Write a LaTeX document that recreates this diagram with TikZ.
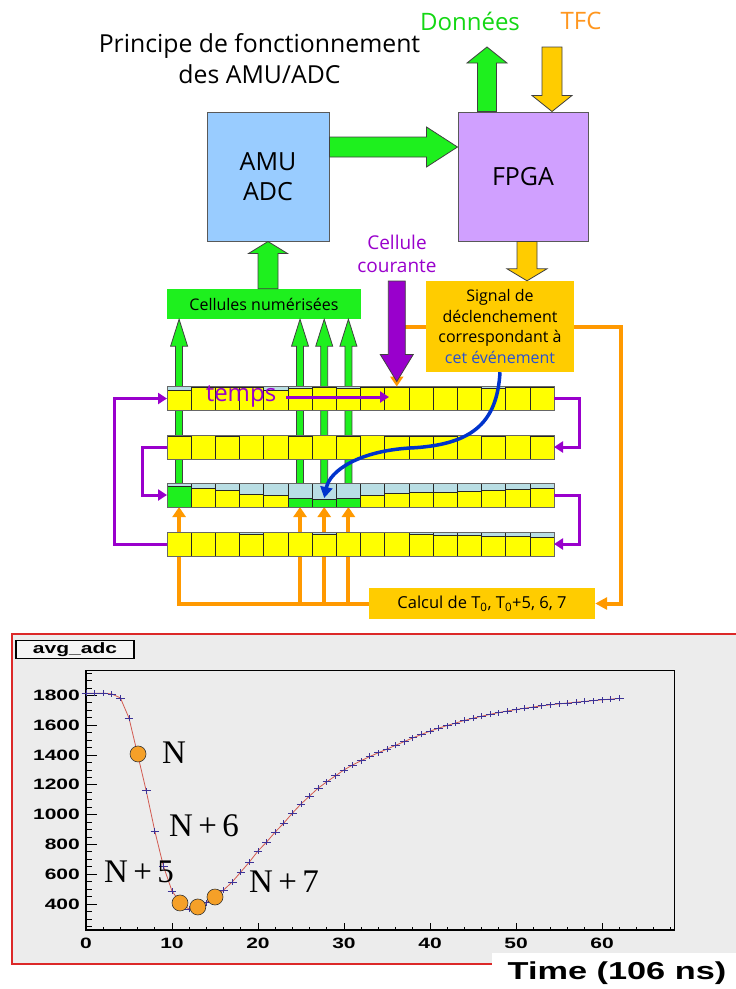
\documentclass[tikz,border=0pt]{standalone}
\usepackage{fontspec}
\setmainfont{Open Sans}
\newfontfamily\plotfont[FakeStretch=1.4]{Liberation Sans}
\newfontfamily\seriffont{Liberation Serif}
\usetikzlibrary{calc,arrows.meta}

\definecolor{vert}{RGB}{30,240,30}
\definecolor{vertdonnees}{RGB}{20,215,20}
\definecolor{gold}{RGB}{255,204,0}
\definecolor{orangeline}{RGB}{255,153,0}
\definecolor{orangetexte}{RGB}{255,150,30}
\definecolor{pourpre}{RGB}{153,0,204}
\definecolor{jaune}{RGB}{255,255,0}
\definecolor{bleuclair}{RGB}{185,222,228}
\definecolor{bleuamu}{RGB}{153,204,255}
\definecolor{mauve}{RGB}{208,160,255}
\definecolor{bleu}{RGB}{0,51,204}
\definecolor{bleutexte}{RGB}{40,80,210}
\definecolor{fond}{RGB}{236,236,236}
\definecolor{rouge}{RGB}{220,40,40}
\definecolor{croix}{RGB}{60,50,150}
\definecolor{courbe}{RGB}{210,90,80}
\definecolor{point}{RGB}{245,160,40}

\tikzset{
  fat/.style n args={3}{draw=black!75, line width=0.8pt, to path={
    let \p1=(\tikztostart), \p2=(\tikztotarget),
        \n1={atan2(\y2-\y1,\x2-\x1)}, \n2={veclen(\x2-\x1,\y2-\y1)} in
    ($(\p1)+({\n1+90}:#1)$) -- ($(\p1)+(\n1:{\n2*1pt-#3})+({\n1+90}:#1)$)
    -- ($(\p1)+(\n1:{\n2*1pt-#3})+({\n1+90}:#2)$) -- (\p2)
    -- ($(\p1)+(\n1:{\n2*1pt-#3})+({\n1-90}:#2)$)
    -- ($(\p1)+(\n1:{\n2*1pt-#3})+({\n1-90}:#1)$)
    -- ($(\p1)+({\n1-90}:#1)$) -- cycle}},
  bloc/.style={draw=gray!70!black, line width=1pt, minimum width=122pt,
    minimum height=129pt, align=center, font=\fontsize{25}{30}\selectfont},
  rangee/.style={minimum width=387pt, minimum height=24pt, inner sep=0pt, outer sep=0pt},
  fil/.style={draw=orangeline, line width=4pt},
  boucle/.style={draw=pourpre, line width=3pt, -{Triangle[width=11pt,length=9pt]}},
  cellline/.style={draw=black!85, line width=0.6pt},
  rowline/.style={draw=gray!80!black, line width=1pt},
  axelab/.style={font=\plotfont\bfseries\fontsize{15}{15}\selectfont, inner sep=0pt},
  croixline/.style={draw=croix, line width=0.8pt},
}

\newcommand\cellrow[2]{%
  \foreach \l/\c [count=\i from 0] in {#2} {
    \coordinate (c) at ([xshift=\i*24.1875pt]#1.north west);
    \fill[bleuclair] (c) rectangle ++(24.1875,24);
    \fill[\c] ($(c)+(0,{\l*24})$) rectangle ++(24.1875,{24-\l*24});
    \draw[cellline] ($(c)+(0,{\l*24})$) -- ++(24.1875,0);
    \draw[cellline] (c) rectangle ++(24.1875,24);
  }
  \draw[rowline] (#1.north west) rectangle (#1.south east);
}

\def\adcdata{0/1815,1/1815,2/1815,3/1810,4/1783,5/1648,6/1405,7/1160,8/890,9/655,10/487,11/407,12/365,13/380,14/410,15/447,16/494,17/548,18/615,19/682,20/756,21/816,22/883,23/943,24/1010,25/1071,26/1125,27/1178,28/1220,29/1260,30/1300,31/1333,32/1362,33/1390,34/1415,35/1440,36/1465,37/1490,38/1515,39/1538,40/1560,41/1580,42/1598,43/1615,44/1632,45/1647,46/1660,47/1673,48/1685,49/1695,50/1705,51/1714,52/1722,53/1730,54/1737,55/1743,56/1749,57/1755,58/1760,59/1765,60/1770,61/1775,62/1780}

\begin{document}
\begin{tikzpicture}[x=1pt, y=-1pt]
\useasboundingbox (0,0) rectangle (736,989);

% ---- histogram panel
\fill[fond] (12,634) rectangle (736,953);
\fill[fond] (12,953) rectangle (492,964);
\draw[rouge, line width=2pt] (736,634) -- (12,634) -- (12,964) -- (492,964);
\node[draw, line width=1.2pt, fill=white!92!gray, minimum width=118pt, minimum height=18pt,
  inner sep=0pt, font=\plotfont\bfseries\fontsize{15}{15}\selectfont] (avg) at (75,649.5) {avg\_adc};
\draw[line width=0.8pt] (86,670) rectangle (674,930);
\draw[line width=1.6pt] (86,670) -- (86,930) -- (674,930);
\foreach \v in {250,300,...,1950} \draw[line width=0.8pt] (86,{963.6-0.149*\v}) -- ++(6,0);
\foreach \v in {400,600,...,1800} {
  \draw[line width=0.8pt] (86,{963.6-0.149*\v}) -- ++(11,0);
  \node[axelab, anchor=east] at (80,{963.6-0.149*\v}) {\v};
}
\foreach \t in {0,2,...,68} \draw[line width=0.8pt] ({86+8.6*\t},930) -- ++(0,-3.5);
\foreach \t in {0,10,...,60} {
  \draw[line width=0.8pt] ({86+8.6*\t},930) -- ++(0,-7);
  \node[axelab] at ({86+8.6*\t},943) {\t};
}
\node[font=\plotfont\bfseries\fontsize{24.5}{24.5}\selectfont] (temps ns) at (617,973) {Time (106 ns)};

\begin{scope}[shift={(86,963.6)}, x=8.6pt, y=0.149pt]
  \draw[courbe, line width=0.8pt] (0,1815) \foreach \t/\v in \adcdata {-- (\t,\v)};
  \foreach \t/\v in \adcdata
    \draw[croixline] (\t,\v) ++(-4.3pt,0) -- ++(8.6pt,0) (\t,\v) ++(0,-3pt) -- ++(0,6pt);
  \foreach \t/\v in {6.05/1407,10.93/407,13/380,15/447}
    \filldraw[fill=point, draw=black!80, line width=0.6pt] (\t,\v) circle[radius=8pt];
\end{scope}
\begin{scope}[font=\seriffont\fontsize{33}{33}\selectfont]
  \node (N) at (174,753) {N};
  \node (N6) at (204,826) {N\,+\,6};
  \node (N5) at (139,872) {N\,+\,5};
  \node (N7) at (284,882) {N\,+\,7};
\end{scope}

% ---- schema
\node[align=center, font=\fontsize{24.8}{31}\selectfont] (titre) at (259.5,59)
  {Principe de fonctionnement\\des AMU/ADC};
\node[text=vertdonnees, font=\fontsize{24}{24}\selectfont] (donnees) at (470,21) {Données};
\node[text=orangetexte, font=\fontsize{24}{24}\selectfont] (tfc) at (581,21) {TFC};

\node[bloc, fill=bleuamu] (adc) at (268,176.5) {AMU\\ADC};
\node[bloc, fill=mauve, minimum width=130pt] (fpga) at (523,176.5) {FPGA};
\node[fill=vert, minimum width=194pt, minimum height=30pt, inner sep=0pt,
  font=\fontsize{16}{16}\selectfont] (numer) at (264,304) {Cellules numérisées};
\node[fill=gold, minimum width=148pt, minimum height=91pt, inner sep=0pt, align=center,
  font=\fontsize{16}{20.5}\selectfont] (sig) at (500,326.5)
  {Signal de\\déclenchement\\correspondant à\\\textcolor{bleutexte}{cet événement}};
\node[fill=gold, minimum width=226pt, minimum height=31pt, inner sep=0pt,
  font=\fontsize{16.5}{16.5}\selectfont] (calcul) at (482,603.5)
  {Calcul de T\textsubscript{0}, T\textsubscript{0}+5, 6, 7};
\node[text=pourpre, align=center, font=\fontsize{19}{23}\selectfont] (courante) at (397,254)
  {Cellule\\courante};

\coordinate (dbout) at (487,47);
\coordinate (tfcbout) at (552,47);
\draw[fat={9.5pt}{20pt}{16pt}, fill=vert] ([xshift=-36pt]fpga.north) to (dbout);
\draw[fat={10pt}{20pt}{16pt}, fill=gold] (tfcbout) to ([xshift=29pt]fpga.north);
\draw[fat={10pt}{20pt}{31pt}, fill=vert] ([yshift=29.5pt]adc.east) to ([yshift=29.5pt]fpga.west);
\draw[fat={10pt}{19.5pt}{12pt}, fill=vert] (adc.south |- numer.north) to (adc.south);
\draw[fat={10pt}{20pt}{12pt}, fill=gold] ([xshift=4pt]fpga.south) to ([xshift=4pt]fpga.south |- sig.north);

% rangees de cellules
\node[rangee] (r1) at (360.5,398.5) {};
\node[rangee] (r2) at (360.5,447) {};
\node[rangee] (r3) at (360.5,495) {};
\node[rangee] (r4) at (360.5,544) {};
\foreach \f [count=\k] in {0.03125,0.34375,0.40625,0.46875}
  \coordinate (w\k) at ($(r3.west)!\f!(r3.east)$);
\coordinate (cur) at ($(r1.north west)!0.59375!(r1.north east)$);
\coordinate (curtop) at ($(cur)+(0,-105.5)$);
\coordinate (evt) at ($(w3)+(0,3)$);

\foreach \k in {1,...,4}
  \draw[fat={3.5pt}{8.5pt}{27pt}, fill=vert] (w\k) to (w\k |- numer.south);
\draw[fil, -{Triangle[width=13pt,length=10pt]}] (calcul.west) -| (w1 |- r3.south);
\foreach \k in {2,3,4}
  \draw[fil, -{Triangle[width=13pt,length=10pt]}] (w\k |- calcul.west) -- (w\k |- r3.south);

\cellrow{r1}{0.14/jaune,0.05/jaune,0.03/jaune,0.03/jaune,0.14/jaune,0.08/jaune,0.05/jaune,0.08/jaune,0.03/jaune,0.05/jaune,0.05/jaune,0.05/jaune,0.03/jaune,0.08/jaune,0.05/jaune,0.05/jaune}
\cellrow{r2}{0.04/jaune,0.03/jaune,0.04/jaune,0.03/jaune,0.03/jaune,0.05/jaune,0.03/jaune,0.05/jaune,0.03/jaune,0.04/jaune,0.04/jaune,0.05/jaune,0.03/jaune,0.05/jaune,0.03/jaune,0.04/jaune}
\cellrow{r3}{0.14/vert,0.21/jaune,0.31/jaune,0.46/jaune,0.53/jaune,0.64/vert,0.68/vert,0.64/vert,0.5/jaune,0.42/jaune,0.39/jaune,0.375/jaune,0.35/jaune,0.31/jaune,0.25/jaune,0.24/jaune}
\cellrow{r4}{0.03/jaune,0.03/jaune,0.03/jaune,0.1/jaune,0.03/jaune,0.03/jaune,0.08/jaune,0.03/jaune,0.03/jaune,0.03/jaune,0.1/jaune,0.14/jaune,0.14/jaune,0.18/jaune,0.19/jaune,0.22/jaune}

% boucles
\draw[boucle] (r1.east) -- ++(25,0) |- (r2.east);
\draw[boucle] (r3.east) -- ++(25,0) |- (r4.east);
\draw[boucle] (r2.west) -- ++(-25,0) |- (r3.west);
\draw[boucle] (r4.west) -- ++(-53,0) |- (r1.west);

\node[text=pourpre, font=\fontsize{24}{24}\selectfont, inner sep=0pt] (temps) at (241,396) {temps};
\coordinate (tempsbout) at (389,397);
\draw[boucle] ([xshift=10pt]temps.east |- tempsbout) -- (tempsbout);

\draw[fil, -{Triangle[width=13pt,length=10pt]}] (sig.west) -| (cur);
\draw[fat={8.5pt}{16.5pt}{27pt}, fill=pourpre] (curtop) to ([yshift=5pt]cur);
\draw[fil, -{Triangle[width=12pt,length=12pt]}] (sig.east) -- ++(47,0) |- (calcul.east);

\draw[bleu, line width=3.5pt, -{Triangle[width=12pt,length=11pt]}] (sig.south)
  .. controls (497,425) and (470,445) .. (410,448)
  .. controls (360,451) and (330,470) .. (evt);
\end{tikzpicture}
\end{document}
